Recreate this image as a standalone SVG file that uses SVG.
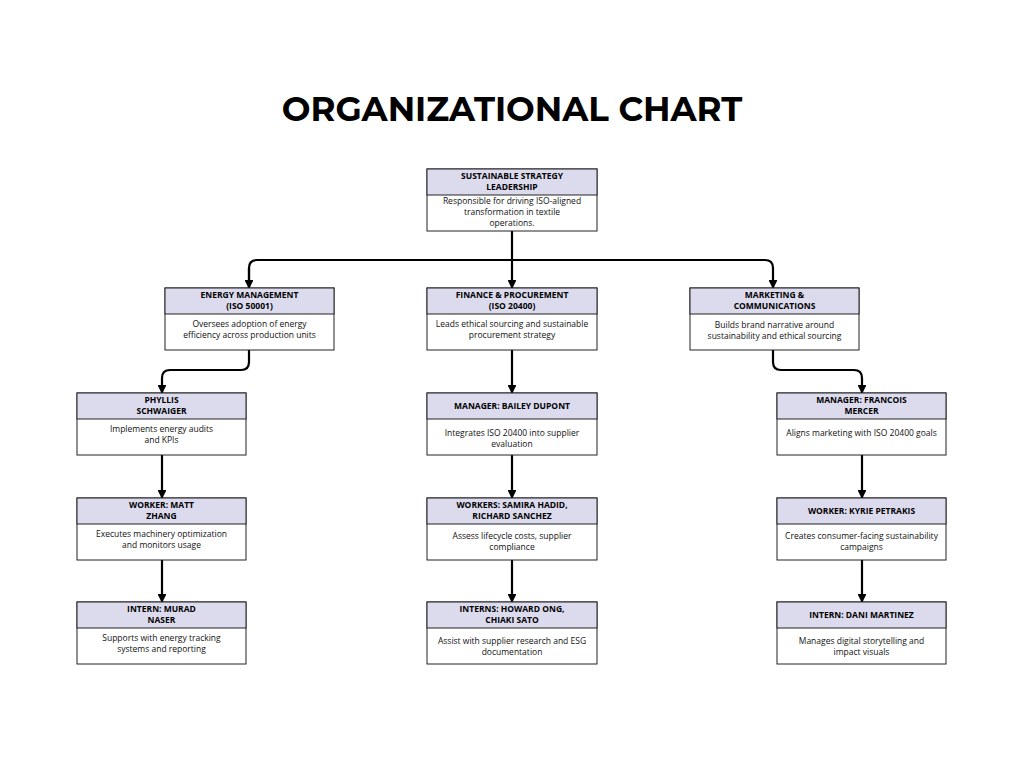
<svg xmlns="http://www.w3.org/2000/svg" width="1024" height="768" viewBox="0 0 1024 768">
<defs>
<style>
.b{fill:#fff;stroke:#222;stroke-width:1}
.h{fill:#dcdbee;stroke:#222;stroke-width:1}
.t{font-family:"Open Sans","Liberation Sans",sans-serif;font-weight:700;font-size:8.5px;fill:#000;text-anchor:middle}
.d{font-family:"Open Sans","Liberation Sans",sans-serif;font-size:8.5px;fill:#111;text-anchor:middle}
.c{fill:none;stroke:#000;stroke-width:2.2}
</style>
<marker id="a" viewBox="0 0 10 10" refX="9" refY="5" markerWidth="4" markerHeight="4" orient="auto"><path d="M0,0L10,5L0,10z" fill="#000"/></marker>
</defs>
<rect width="1024" height="768" fill="#fff"/>
<text x="512" y="121" font-family="Montserrat,'Open Sans','Liberation Sans',sans-serif" font-weight="700" font-size="34" text-anchor="middle">ORGANIZATIONAL CHART</text>
<g id="connectors">
<path class="c" d="M512,231V288" marker-end="url(#a)"/>
<path class="c" d="M249,288V268Q249,260 257,260H765Q773,260 773,268V288" marker-end="url(#a)"/>
<path class="c" d="M249,268V288" marker-end="url(#a)"/>
<path class="c" d="M249,350V362Q249,370 241,370H170Q162,370 162,378V393" marker-end="url(#a)"/>
<path class="c" d="M773,350V362Q773,370 781,370H854Q862,370 862,378V393" marker-end="url(#a)"/>
<path class="c" d="M512,350V393" marker-end="url(#a)"/>
<path class="c" d="M162,455V498" marker-end="url(#a)"/>
<path class="c" d="M162,560V602" marker-end="url(#a)"/>
<path class="c" d="M512,455V498" marker-end="url(#a)"/>
<path class="c" d="M512,560V602" marker-end="url(#a)"/>
<path class="c" d="M862,455V498" marker-end="url(#a)"/>
<path class="c" d="M862,560V602" marker-end="url(#a)"/>
</g>
<g id="n0"><rect class="b" x="427" y="169" width="170" height="62"/><rect class="h" x="427" y="169" width="170" height="26"/>
<text class="t" x="512" y="179">SUSTAINABLE STRATEGY</text><text class="t" x="512" y="190">LEADERSHIP</text>
<text class="d" x="512" y="204">Responsible for driving ISO-aligned</text><text class="d" x="512" y="215">transformation in textile</text><text class="d" x="512" y="226">operations.</text></g>
<g id="n1"><rect class="b" x="165" y="288" width="169" height="62"/><rect class="h" x="165" y="288" width="169" height="26"/>
<text class="t" x="249.5" y="298">ENERGY MANAGEMENT</text><text class="t" x="249.5" y="309">(ISO 50001)</text>
<text class="d" x="249.5" y="327">Oversees adoption of energy</text><text class="d" x="249.5" y="338">efficiency across production units</text></g>
<g id="n2"><rect class="b" x="427" y="288" width="170" height="62"/><rect class="h" x="427" y="288" width="170" height="26"/>
<text class="t" x="512" y="298">FINANCE &amp; PROCUREMENT</text><text class="t" x="512" y="309">(ISO 20400)</text>
<text class="d" x="512" y="327">Leads ethical sourcing and sustainable</text><text class="d" x="512" y="338">procurement strategy</text></g>
<g id="n3"><rect class="b" x="690" y="288" width="169" height="62"/><rect class="h" x="690" y="288" width="169" height="26"/>
<text class="t" x="774.5" y="298">MARKETING &amp;</text><text class="t" x="774.5" y="309">COMMUNICATIONS</text>
<text class="d" x="774.5" y="328">Builds brand narrative around</text><text class="d" x="774.5" y="339">sustainability and ethical sourcing</text></g>

<g id="n4"><rect class="b" x="77" y="393" width="169" height="62"/><rect class="h" x="77" y="393" width="169" height="26"/>
<text class="t" x="161.5" y="403">PHYLLIS</text><text class="t" x="161.5" y="414">SCHWAIGER</text>
<text class="d" x="161.5" y="432">Implements energy audits</text><text class="d" x="161.5" y="443">and KPIs</text></g>
<g id="n5"><rect class="b" x="77" y="498" width="169" height="62"/><rect class="h" x="77" y="498" width="169" height="26"/>
<text class="t" x="161.5" y="508">WORKER: MATT</text><text class="t" x="161.5" y="519">ZHANG</text>
<text class="d" x="161.5" y="537">Executes machinery optimization</text><text class="d" x="161.5" y="548">and monitors usage</text></g>
<g id="n6"><rect class="b" x="77" y="602" width="169" height="62"/><rect class="h" x="77" y="602" width="169" height="26"/>
<text class="t" x="161.5" y="612">INTERN: MURAD</text><text class="t" x="161.5" y="623">NASER</text>
<text class="d" x="161.5" y="641">Supports with energy tracking</text><text class="d" x="161.5" y="652">systems and reporting</text></g>

<g id="n7"><rect class="b" x="427" y="393" width="170" height="62"/><rect class="h" x="427" y="393" width="170" height="26"/>
<text class="t" x="512" y="409">MANAGER: BAILEY DUPONT</text>
<text class="d" x="512" y="436">Integrates ISO 20400 into supplier</text><text class="d" x="512" y="447">evaluation</text></g>
<g id="n8"><rect class="b" x="427" y="498" width="170" height="62"/><rect class="h" x="427" y="498" width="170" height="26"/>
<text class="t" x="512" y="508">WORKERS: SAMIRA HADID,</text><text class="t" x="512" y="519">RICHARD SANCHEZ</text>
<text class="d" x="512" y="539">Assess lifecycle costs, supplier</text><text class="d" x="512" y="550">compliance</text></g>
<g id="n9"><rect class="b" x="427" y="602" width="170" height="62"/><rect class="h" x="427" y="602" width="170" height="26"/>
<text class="t" x="512" y="612">INTERNS: HOWARD ONG,</text><text class="t" x="512" y="623">CHIAKI SATO</text>
<text class="d" x="512" y="644">Assist with supplier research and ESG</text><text class="d" x="512" y="655">documentation</text></g>

<g id="n10"><rect class="b" x="777" y="393" width="169" height="62"/><rect class="h" x="777" y="393" width="169" height="26"/>
<text class="t" x="861.5" y="403">MANAGER: FRANCOIS</text><text class="t" x="861.5" y="414">MERCER</text>
<text class="d" x="861.5" y="436">Aligns marketing with ISO 20400 goals</text></g>
<g id="n11"><rect class="b" x="777" y="498" width="169" height="62"/><rect class="h" x="777" y="498" width="169" height="26"/>
<text class="t" x="861.5" y="514">WORKER: KYRIE PETRAKIS</text>
<text class="d" x="861.5" y="539">Creates consumer-facing sustainability</text><text class="d" x="861.5" y="550">campaigns</text></g>
<g id="n12"><rect class="b" x="777" y="602" width="169" height="62"/><rect class="h" x="777" y="602" width="169" height="26"/>
<text class="t" x="861.5" y="618">INTERN: DANI MARTINEZ</text>
<text class="d" x="861.5" y="644">Manages digital storytelling and</text><text class="d" x="861.5" y="655">impact visuals</text></g>
</svg>
